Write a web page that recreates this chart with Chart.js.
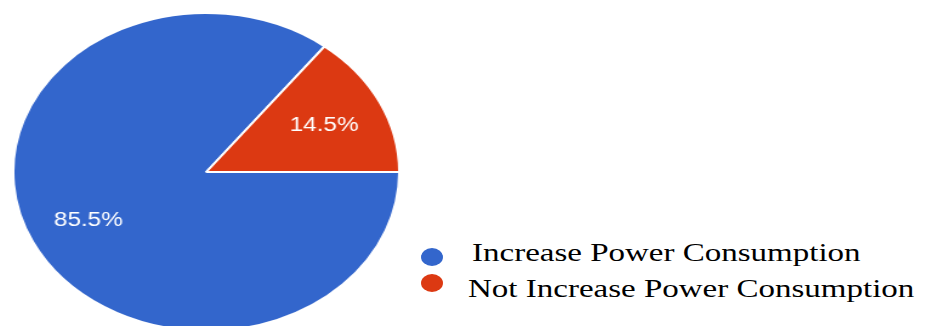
<!DOCTYPE html>
<html>
<head>
<meta charset="utf-8">
<script src="https://cdn.jsdelivr.net/npm/chart.js@4/dist/chart.umd.min.js"></script>
<style>
  html, body { margin: 0; padding: 0; width: 938px; height: 326px; overflow: hidden; background: #fff; }
  #pieWrap { position: absolute; left: 12px; top: 12px; transform: scaleX(1.214); transform-origin: 0 0; }
  #legend { position: absolute; left: 0; top: 0; }
  .leg-dot { position: absolute; width: 22px; height: 18px; border-radius: 50%; }
  .leg-text {
    position: absolute; white-space: nowrap; color: #000;
    font: 25px/25px "Liberation Serif", "DejaVu Serif", serif;
    transform: scaleX(1.32); transform-origin: 0 0;
  }
</style>
</head>
<body>
<div id="pieWrap"><canvas id="pie" width="320" height="320"></canvas></div>
<div id="legend"></div>
<script>
const labels = ['Increase Power Consumption', 'Not Increase Power Consumption'];
const shares = [85.5, 14.5];
const colors = ['#3366cc', '#dc3912'];

// percentage text inside each slice
const sliceLabels = {
  id: 'sliceLabels',
  afterDatasetsDraw(chart) {
    const ctx = chart.ctx;
    const meta = chart.getDatasetMeta(0);
    ctx.save();
    ctx.fillStyle = '#fff';
    ctx.font = '20px "Liberation Sans", Arial, sans-serif';
    ctx.textAlign = 'center';
    ctx.textBaseline = 'middle';
    meta.data.forEach((arc, i) => {
      const p = arc.getProps(['x', 'y', 'startAngle', 'endAngle', 'outerRadius'], true);
      const mid = (p.startAngle + p.endAngle) / 2;
      const r = p.outerRadius * 0.68;
      ctx.fillText(shares[i].toFixed(1) + '%', p.x + Math.cos(mid) * r, p.y + Math.sin(mid) * r + 1);
    });
    ctx.restore();
  }
};

new Chart(document.getElementById('pie').getContext('2d'), {
  type: 'pie',
  data: {
    labels: labels,
    datasets: [{
      data: shares,
      backgroundColor: colors,
      borderColor: '#fff',
      borderWidth: 2,
    }],
  },
  options: {
    responsive: false,
    animation: false,
    rotation: 90,
    layout: { padding: 0 },
    plugins: {
      legend: { display: false },
      tooltip: { enabled: false },
    },
  },
  plugins: [sliceLabels],
});

// legend on the right, built from the same arrays
const legendPos = [
  { dotX: 421, dotY: 248, textX: 472, textY: 240 },
  { dotX: 421, dotY: 274, textX: 468, textY: 276 },
];
document.getElementById('legend').innerHTML = labels.map((l, i) => `
  <span class="leg-dot" style="left:${legendPos[i].dotX}px;top:${legendPos[i].dotY}px;background:${colors[i]}"></span>
  <span class="leg-text" style="left:${legendPos[i].textX}px;top:${legendPos[i].textY}px">${l}</span>`).join('');
</script>
</body>
</html>
